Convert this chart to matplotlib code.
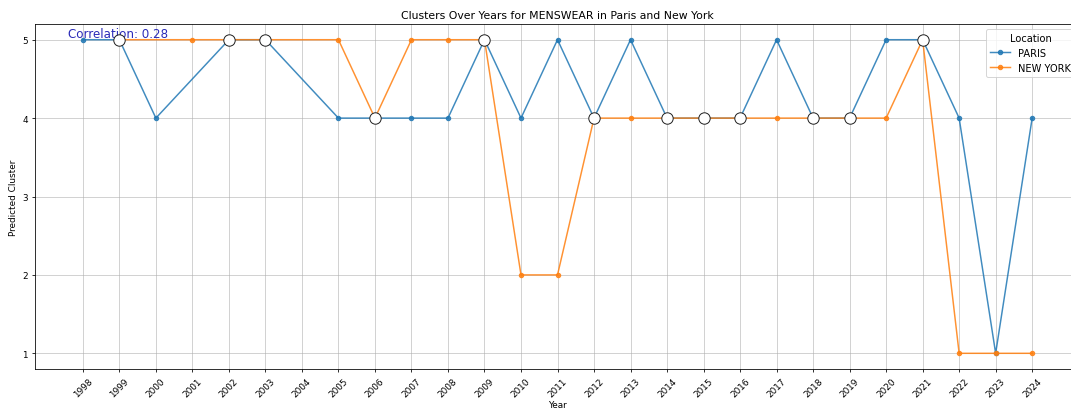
import matplotlib
matplotlib.use('Agg')
from matplotlib import pyplot as plt

years = list(range(1998, 2025))

paris_years = [1998, 1999, 2000, 2002, 2003, 2005, 2006, 2007, 2008, 2009, 2010, 2011, 2012,
               2013, 2014, 2015, 2016, 2017, 2018, 2019, 2020, 2021, 2022, 2023, 2024]
paris_cluster = [5, 5, 4, 5, 5, 4, 4, 4, 4, 5, 4, 5, 4,
                 5, 4, 4, 4, 5, 4, 4, 5, 5, 4, 1, 4]

ny_years = [1999, 2001, 2002, 2003, 2005, 2006, 2007, 2008, 2009, 2010, 2011, 2012,
            2013, 2014, 2015, 2016, 2017, 2018, 2019, 2020, 2021, 2022, 2023, 2024]
ny_cluster = [5, 5, 5, 5, 5, 4, 5, 5, 5, 2, 2, 4,
              4, 4, 4, 4, 4, 4, 4, 4, 5, 1, 1, 1]

# years where both cities got the same cluster
match_years = [1999, 2002, 2003, 2006, 2009, 2012, 2014, 2015, 2016, 2018, 2019, 2021]
match_cluster = [5, 5, 5, 4, 5, 4, 4, 4, 4, 4, 4, 5]

correlation = 0.28

pos = {y: i for i, y in enumerate(years)}

fig = plt.figure(figsize=(15, 5.742), dpi=71.4)
ax = fig.add_axes([0.0327, 0.0976, 0.9757, 0.8414])

ax.plot([pos[y] for y in paris_years], paris_cluster, marker='o', markersize=4.5,
        color='#1f77b4', linewidth=1.5, alpha=0.85, label='PARIS')
ax.plot([pos[y] for y in ny_years], ny_cluster, marker='o', markersize=4.5,
        color='#ff7f0e', linewidth=1.5, alpha=0.85, label='NEW YORK')
ax.plot([pos[y] for y in match_years], match_cluster, linestyle='none', marker='o',
        markersize=11.5, markerfacecolor='white', markeredgecolor='#222222',
        markeredgewidth=1.0, zorder=5)

ax.text(pos[1998] - 0.4, 5.0, f'Correlation: {correlation}', color='#2b2bb8',
        fontsize=12, va='bottom', ha='left')

ax.set_xticks(range(len(years)))
ax.set_xticklabels([str(y) for y in years], rotation=45)
ax.set_yticks([1, 2, 3, 4, 5])
ax.set_xlim(-1.31, len(years) - 1 + 1.31)
ax.set_ylim(0.8, 5.2)
ax.tick_params(labelsize=9)
ax.grid(True, color='#b0b0b0', linewidth=0.8, alpha=0.7)
ax.set_xlabel('Year', fontsize=9, labelpad=2)
ax.set_ylabel('Predicted Cluster', fontsize=9)
ax.set_title('Clusters Over Years for MENSWEAR in Paris and New York', fontsize=11)
ax.legend(title='Location', loc='upper right', fontsize=10, title_fontsize=10)

fig.savefig('out.png', dpi=71.4)
